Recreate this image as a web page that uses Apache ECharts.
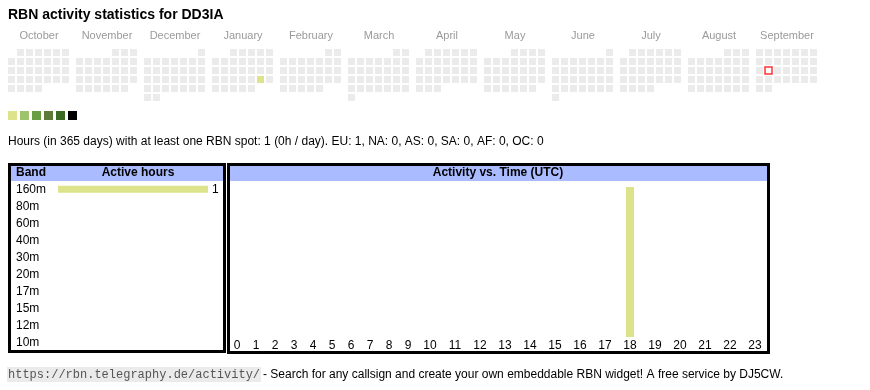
<!DOCTYPE html>
<html>
<head>
<meta charset="utf-8">
<script src="https://cdn.jsdelivr.net/npm/echarts@6/dist/echarts.min.js"></script>
<style>
html,body{margin:0;padding:0;background:#fff;}
#chart{width:870px;height:390px;}
</style>
</head>
<body>
<div id="chart"></div>
<script>
// ---- data ----
const titleText = 'RBN activity statistics for DD3IA';
const monthKeys = ['2024-10','2024-11','2024-12','2025-01','2025-02','2025-03','2025-04','2025-05','2025-06','2025-07','2025-08','2025-09'];
const monthNames = ['October','November','December','January','February','March','April','May','June','July','August','September'];
const activeDays = [['2025-01-25', 1]];
const todayDate = '2025-09-16';
const levelColors = ['#dce38a','#9dc46a','#6a9e42','#5e7a38','#3b6a25','#000000'];
const levelMins = [1, 2, 4, 7, 11, 16];
const summaryText = 'Hours (in 365 days) with at least one RBN spot: 1 (0h / day). EU: 1, NA: 0, AS: 0, SA: 0, AF: 0, OC: 0';
const bands = ['160m','80m','60m','40m','30m','20m','17m','15m','12m','10m'];
const bandHours = [1,0,0,0,0,0,0,0,0,0];
const hourLabels = ['0','1','2','3','4','5','6','7','8','9','10','11','12','13','14','15','16','17','18','19','20','21','22','23'];
const hourActivity = [0,0,0,0,0,0,0,0,0,0,0,0,0,0,0,0,0,0,1,0,0,0,0,0];
const footerUrl = 'https://rbn.telegraphy.de/activity/';
const footerText = '- Search for any callsign and create your own embeddable RBN widget! A free service by DJ5CW.';

// ---- build ----
const FONT = '"Liberation Sans", Arial, sans-serif';
const barColor = levelColors[0];
const chart = echarts.init(document.getElementById('chart'), null, {renderer:'canvas'});

const calendars = monthKeys.map((m, i) => ({
  orient: 'vertical',
  left: 7 + 68 * i,
  top: 48,
  cellSize: [9, 9],
  range: m,
  splitLine: {show: false},
  itemStyle: {color: '#ebebeb', borderColor: '#ffffff', borderWidth: 2},
  dayLabel: {show: false, firstDay: 1},
  monthLabel: {show: false},
  yearLabel: {show: false},
  silent: true
}));

const series = monthKeys.map((m, i) => ({
  type: 'heatmap',
  coordinateSystem: 'calendar',
  calendarIndex: i,
  data: activeDays.filter(d => d[0].slice(0, 7) === m),
  itemStyle: {borderWidth: 0},
  emphasis: {disabled: true},
  silent: true
}));
const heatIdx = series.map((s, i) => i);

series.push({
  type: 'scatter',
  coordinateSystem: 'calendar',
  calendarIndex: monthKeys.indexOf(todayDate.slice(0, 7)),
  data: [[todayDate, 0]],
  symbol: 'rect',
  symbolSize: 7,
  itemStyle: {color: '#ffffff', borderColor: '#ff0000', borderWidth: 1.5},
  silent: true,
  z: 5
});

const pieces = levelMins.map((mn, i) => {
  const p = {min: mn, color: levelColors[i]};
  if (i < levelMins.length - 1) p.max = levelMins[i + 1] - 1;
  return p;
});

const maxBand = Math.max(...bandHours, 1);
const maxHour = Math.max(...hourActivity, 1);

series.push({
  type: 'bar',
  xAxisIndex: 0, yAxisIndex: 0,
  data: bandHours,
  barWidth: 7,
  itemStyle: {color: barColor},
  label: {show: true, position: 'right', distance: 4, fontSize: 12, fontFamily: FONT, color: '#000',
    formatter: p => p.value > 0 ? String(p.value) : ''},
  silent: true
});
series.push({
  type: 'bar', xAxisIndex: 1, yAxisIndex: 1,
  data: hourActivity.slice(0, 10), barWidth: 8, itemStyle: {color: barColor}, silent: true
});
series.push({
  type: 'bar', xAxisIndex: 2, yAxisIndex: 2,
  data: hourActivity.slice(10), barWidth: 8, itemStyle: {color: barColor}, silent: true
});

const hourAxis = (data) => ({
  type: 'category', data: data,
  axisLine: {show: false}, axisTick: {show: false},
  axisLabel: {margin: 3, fontSize: 12, fontFamily: FONT, color: '#000', interval: 0},
  splitLine: {show: false}
});
const hiddenValue = (max) => ({type: 'value', min: 0, max: max, show: false, splitLine: {show: false}});

function txt(x, y, text, opts) {
  return {type: 'text', x: x, y: y, silent: true, z: 10,
    style: Object.assign({text: text, font: '11px ' + FONT, fill: '#000', verticalAlign: 'middle', align: 'left'}, opts || {})};
}

const graphics = [];
// titles and month labels
graphics.push(txt(8, 15.5, titleText, {font: 'bold 14px ' + FONT}));
monthNames.forEach((n, i) => graphics.push(txt(7 + 68 * i + 32, 35.5, n, {align: 'center', fill: '#9a9a9a'})));
graphics.push(txt(8, 142, summaryText, {font: '12px ' + FONT}));
// panels: header backgrounds
graphics.push({type: 'rect', shape: {x: 10, y: 165.5, width: 214, height: 15.5}, style: {fill: '#aabbff'}, silent: true, z: 0});
graphics.push({type: 'rect', shape: {x: 229, y: 165.5, width: 539, height: 15.5}, style: {fill: '#aabbff'}, silent: true, z: 0});
graphics.push(txt(16, 173, 'Band', {font: 'bold 12px ' + FONT}));
graphics.push(txt(138, 173, 'Active hours', {font: 'bold 12px ' + FONT, align: 'center'}));
graphics.push(txt(498, 173, 'Activity vs. Time (UTC)', {font: 'bold 12px ' + FONT, align: 'center'}));
// panel borders
graphics.push({type: 'rect', shape: {x: 9.5, y: 164.5, width: 215, height: 187}, style: {fill: null, stroke: '#000', lineWidth: 3}, silent: true, z: 20});
graphics.push({type: 'rect', shape: {x: 228.5, y: 164.5, width: 540, height: 188}, style: {fill: null, stroke: '#000', lineWidth: 3}, silent: true, z: 20});
// footer
graphics.push({type: 'rect', shape: {x: 7, y: 367, width: 254, height: 15}, style: {fill: '#ebebeb'}, silent: true, z: 0});
graphics.push(txt(8, 374.5, footerUrl, {font: '12px "Liberation Mono", "Courier New", monospace', fill: '#555'}));
graphics.push(txt(263, 374.5, footerText, {font: '12px ' + FONT}));

const option = {
  animation: false,
  backgroundColor: '#ffffff',
  calendar: calendars,
  visualMap: {
    type: 'piecewise',
    seriesIndex: heatIdx,
    orient: 'horizontal',
    left: 8, top: 111,
    padding: 0,
    itemWidth: 9, itemHeight: 9, itemGap: 3,
    itemSymbol: 'rect',
    showLabel: false,
    selectedMode: false,
    pieces: pieces
  },
  grid: [
    {left: 58, top: 180.8, width: 150, height: 170},
    {left: 227.5, top: 187, width: 190, height: 150},
    {left: 417.5, top: 187, width: 350, height: 150}
  ],
  xAxis: [
    hiddenValue(maxBand),
    Object.assign(hourAxis(hourLabels.slice(0, 10)), {gridIndex: 1}),
    Object.assign(hourAxis(hourLabels.slice(10)), {gridIndex: 2})
  ],
  yAxis: [
    {type: 'category', data: bands, inverse: true, gridIndex: 0,
      axisLine: {show: false}, axisTick: {show: false}, splitLine: {show: false},
      axisLabel: {align: 'left', margin: 42, fontSize: 12, fontFamily: FONT, color: '#000', interval: 0}},
    Object.assign(hiddenValue(maxHour), {gridIndex: 1}),
    Object.assign(hiddenValue(maxHour), {gridIndex: 2})
  ],
  series: series,
  graphic: {elements: graphics}
};
chart.setOption(option);
</script>
</body>
</html>
